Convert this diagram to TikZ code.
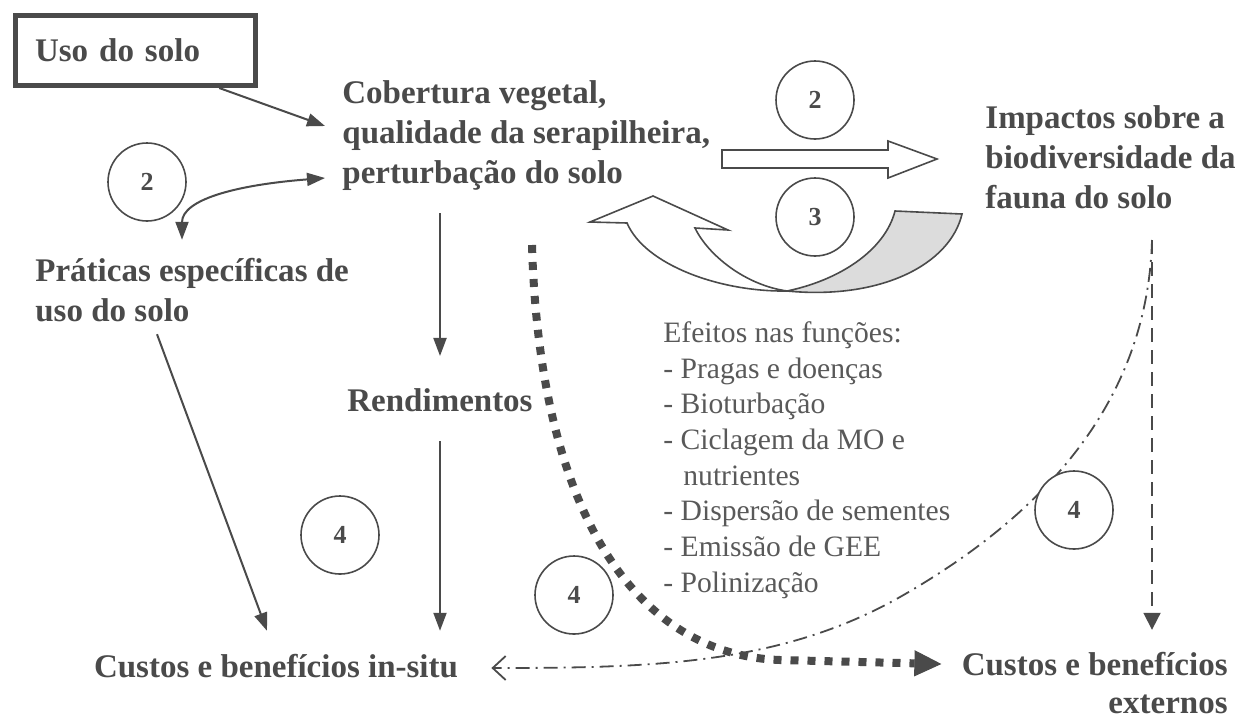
\documentclass[tikz,border=0pt]{standalone}
\usepackage{fontspec}
\setmainfont{Liberation Serif}
\usetikzlibrary{arrows.meta}
\definecolor{ink}{HTML}{4A4A4A}
\definecolor{soft}{HTML}{595959}
\definecolor{shade}{HTML}{DCDCDC}
\tikzstyle{bigtext} = [inner sep=0pt, text=ink, font=\fontsize{16.5}{20}\selectfont\bfseries, align=left]
\tikzstyle{usobox} = [bigtext, draw=ink, line width=2.5pt, inner xsep=10pt, text width=100pt, minimum height=35pt]
\tikzstyle{effects} = [inner sep=0pt, text=soft, font=\fontsize{14.8}{17.85}\selectfont, align=left]
\tikzstyle{num} = [circle, draw=ink, line width=0.8pt, fill=white, minimum size=39pt, inner sep=0pt, text=ink, font=\fontsize{13}{15}\selectfont\bfseries]
\tikzstyle{arrow} = [draw=ink, line width=1pt, -{Triangle[length=9pt,width=6.5pt]}]
\tikzstyle{twoway} = [draw=ink, line width=1pt, {Triangle[length=9pt,width=6.5pt]}-{Triangle[length=9pt,width=6.5pt]}]
\tikzstyle{dotarrow} = [draw=ink, line width=4pt, dash pattern=on 4pt off 4.5pt, -{Triangle[length=13.5pt,width=13pt,line width=0.5pt]}]
\tikzstyle{chainline} = [draw=ink, line width=0.9pt, dash pattern=on 7pt off 3pt on 1pt off 3pt, -{Straight Barb[length=6.5pt,width=12pt]}]
\tikzstyle{dasharrow} = [draw=ink, line width=0.9pt, dash pattern=on 7pt off 4pt, -{Triangle[length=8.5pt,width=8.5pt]}]
\tikzstyle{hollow} = [draw=ink, line width=0.8pt, fill=white, line join=miter]

\begin{document}
\begin{tikzpicture}[x=0.5pt, y=-0.5pt]
\useasboundingbox (0,0) rectangle (1245,718);
% texts
\node (uso) [usobox] at (135,50.5) {Uso do solo};
\node (cob) [bigtext, anchor=west] at (342,136) {Cobertura vegetal,\\qualidade da serapilheira,\\perturbação do solo};
\node (imp) [bigtext, anchor=west] at (985,157) {Impactos sobre a\\biodiversidade da\\fauna do solo};
\node (pra) [bigtext, anchor=west] at (35,290) {Práticas específicas de\\uso do solo};
\node (rend) [bigtext] at (440,400) {Rendimentos};
\node (insitu) [bigtext] at (276,666) {Custos e benefícios in-situ};
\node (ext) [bigtext, anchor=east, align=right, font=\fontsize{16.5}{19}\selectfont\bfseries] at (1228,683) {Custos e benefícios\\externos};
\node (efe) [effects, anchor=west] at (663,460) {Efeitos nas funções:\\- Pragas e doenças\\- Bioturbação\\- Ciclagem da MO e\\\hspace*{10pt}nutrientes\\- Dispersão de sementes\\- Emissão de GEE\\- Polinização};
\coordinate (impbot) at (1152,240);
\coordinate (dotstart) at (532,245);

% big arrows (2) and (3)
\draw [hollow] (722,150) -- (888,150) -- (888,141) -- (937,159) -- (888,178) -- (888,168) -- (722,168) -- cycle;
\draw [hollow, fill=shade] (787,291) .. controls (840,280) and (885,250) .. (895,211) -- (962,214) .. controls (950,265) and (880,300) .. (787,291) -- cycle;
\draw [hollow] (590,222) -- (653,196) -- (728,230) -- (695,228) .. controls (708,255) and (745,285) .. (787,291) .. controls (720,292) and (645,265) .. (627,223) -- cycle;

% connectors
\draw [arrow] (uso.-24) -- ([xshift=-8.5pt,yshift=5pt]cob.west);
\draw [twoway] ([xshift=73.5pt,yshift=9pt]pra.north west) .. controls +(0,-40) and +(-90,7) .. ([xshift=-8.5pt,yshift=-21pt]cob.west);
\draw [arrow] ([xshift=61pt,yshift=-6pt]pra.south west) -- ([xshift=-4.5pt,yshift=11.5pt]insitu.north);
\draw [arrow, shorten <=11pt, shorten >=16pt] (rend.north |- cob.south) -- (rend.north);
\draw [arrow, shorten <=14.5pt, shorten >=11.5pt] (rend.south) -- (rend.south |- insitu.north);
\draw [dotarrow] (dotstart) .. controls (540,520) and (640,655) .. (780,660) -- ([xshift=-10pt,yshift=9.5pt]ext.west);
\draw [chainline] (impbot) .. controls (1148,380) and (1070,500) .. (900,597) .. controls (780,665) and (650,668) .. ([xshift=16.5pt,yshift=-1pt]insitu.east);
\draw [dasharrow, shorten >=11pt] (impbot) -- (impbot |- ext.north);

% numbers
\node (n2a) [num] at (147,182) {2};
\node (n2b) [num] at (815,100) {2};
\node (n3) [num] at (815,217) {3};
\node (n4a) [num] at (340,535) {4};
\node (n4b) [num] at (574,595) {4};
\node (n4c) [num] at (1074,510) {4};
\end{tikzpicture}
\end{document}
